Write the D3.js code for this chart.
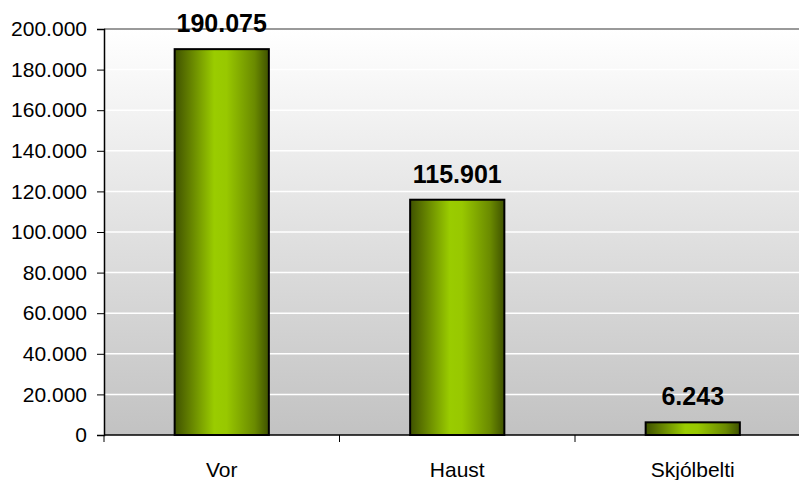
<!DOCTYPE html>
<html><head><meta charset="utf-8">
<script src="https://cdn.jsdelivr.net/npm/d3@7"></script>
<style>body{margin:0;background:#fff}svg{display:block}</style>
</head><body>
<svg id="c" width="799" height="480"></svg>
<script>
const categories = ["Vor", "Haust", "Skjólbelti"];
const values = [190075, 115901, 6243];
const yTicks = [0, 20000, 40000, 60000, 80000, 100000, 120000, 140000, 160000, 180000, 200000];

const svg = d3.select("#c");
const m = {left: 104, top: 29, bottom: 435, right: 810.5};
const fmt = v => d3.format(",")(v).replace(/,/g, ".");
const FONT = "'Liberation Sans', Arial, sans-serif";

const x = d3.scaleBand().domain(categories).range([m.left, m.right]).paddingInner(0).paddingOuter(0);
const y = d3.scaleLinear().domain([0, 200000]).range([m.bottom, m.top]);

const defs = svg.append("defs");
const bg = defs.append("linearGradient").attr("id","bg").attr("x1",0).attr("y1",0).attr("x2",0).attr("y2",1);
bg.append("stop").attr("offset","0%").attr("stop-color","#ffffff");
bg.append("stop").attr("offset","100%").attr("stop-color","#c2c2c2");
const bar = defs.append("linearGradient").attr("id","bar").attr("x1",0).attr("y1",0).attr("x2",1).attr("y2",0);
[[0,"#3f5200"],[0.12,"#5a7400"],[0.42,"#9acc00"],[0.55,"#98c800"],[0.85,"#6a8a00"],[1,"#3f5200"]]
  .forEach(([o,c]) => bar.append("stop").attr("offset", o).attr("stop-color", c));

svg.append("rect").attr("x", m.left).attr("y", m.top).attr("width", 799 - m.left).attr("height", m.bottom - m.top).attr("fill","url(#bg)");

// gridlines
svg.append("g").selectAll("line").data(yTicks.filter(t => t > 0 && t < 200000)).join("line")
  .attr("x1", m.left).attr("x2", 799).attr("y1", d => y(d)).attr("y2", d => y(d))
  .attr("stroke","#ffffff").attr("stroke-width",1.5);
// top border
svg.append("line").attr("x1", m.left).attr("x2", 799).attr("y1", y(200000)).attr("y2", y(200000))
  .attr("stroke","#9a9a9a").attr("stroke-width",2);

// y axis
const ya = svg.append("g").attr("transform", `translate(${m.left},0)`)
  .call(d3.axisLeft(y).tickValues(yTicks).tickFormat(fmt).tickSize(7).tickPadding(10));
ya.select(".domain").attr("stroke","#000").attr("stroke-width",1.5);
ya.selectAll(".tick line").attr("stroke","#000");
ya.selectAll("text").attr("font-family", FONT).attr("font-size","21px").attr("fill","#000");

// x axis
const xa = svg.append("g").attr("transform", `translate(0,${m.bottom})`)
  .call(d3.axisBottom(x).tickSize(0).tickPadding(27));
xa.select(".domain").remove();
xa.selectAll("text").attr("font-family", FONT).attr("font-size","21px").attr("fill","#000");
svg.append("line").attr("x1", m.left).attr("x2", 799).attr("y1", m.bottom).attr("y2", m.bottom).attr("stroke","#000").attr("stroke-width",1.5);
svg.append("g").selectAll("line").data(categories.map(c => x(c))).join("line")
  .attr("x1", d => d).attr("x2", d => d).attr("y1", m.bottom).attr("y2", m.bottom + 7).attr("stroke","#000");

// bars
const bw = x.bandwidth() * 0.4;
svg.append("g").selectAll("rect").data(categories).join("rect")
  .attr("x", (d) => x(d) + x.bandwidth()/2 - bw/2)
  .attr("y", (d,i) => y(values[i]))
  .attr("width", bw)
  .attr("height", (d,i) => y(0) - y(values[i]))
  .attr("fill","url(#bar)").attr("stroke","#000").attr("stroke-width",2);

// labels
svg.append("g").selectAll("text").data(categories).join("text")
  .attr("x", d => x(d) + x.bandwidth()/2)
  .attr("y", (d,i) => y(values[i]) - 17)
  .attr("text-anchor","middle")
  .attr("font-family", FONT).attr("font-size","25px").attr("font-weight","bold")
  .text((d,i) => fmt(values[i]));
</script>
</body></html>
